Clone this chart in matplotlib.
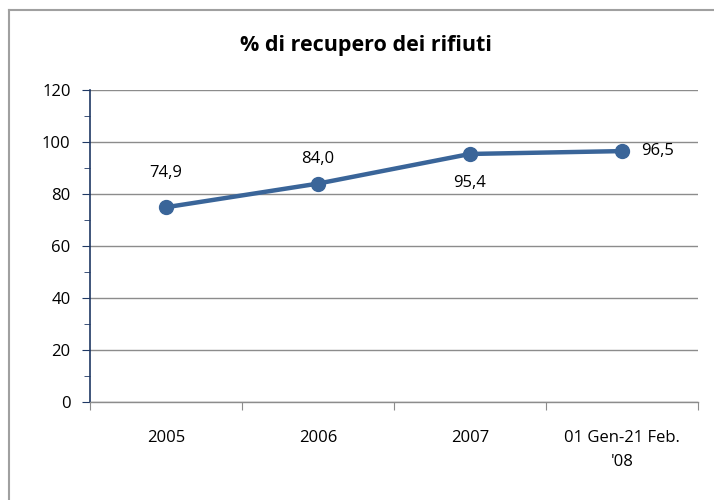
import matplotlib
matplotlib.use("Agg")
import matplotlib.pyplot as plt
from matplotlib.lines import Line2D
from matplotlib.ticker import MultipleLocator, FixedLocator

plt.rcParams['font.family'] = ['Open Sans', 'DejaVu Sans']

categories = ["2005", "2006", "2007", "01 Gen-21 Feb.\n'08"]
values = [74.9, 84.0, 95.4, 96.5]
labels = ["74,9", "84,0", "95,4", "96,5"]

fig = plt.figure(figsize=(7.14, 5.00), dpi=100)
ax = fig.add_axes([90 / 714, 1 - 402 / 500, 608 / 714, 312 / 500])

blue = '#3a6599'
x = list(range(len(values)))
ax.plot(x, values, color=blue, linewidth=3.2, marker='o', markersize=10,
        solid_capstyle='round', zorder=3)

fs = 12
# data labels, Excel-style placement
ax.annotate(labels[0], (x[0], values[0]), xytext=(0, 25), textcoords='offset points',
            ha='center', va='center', fontsize=fs)
ax.annotate(labels[1], (x[1], values[1]), xytext=(0, 18), textcoords='offset points',
            ha='center', va='center', fontsize=fs)
ax.annotate(labels[2], (x[2], values[2]), xytext=(0, -21), textcoords='offset points',
            ha='center', va='center', fontsize=fs)
ax.annotate(labels[3], (x[3], values[3]), xytext=(14, 0), textcoords='offset points',
            ha='left', va='center', fontsize=fs)

ax.set_xlim(-0.5, len(values) - 0.5)
ax.set_ylim(0, 120)
ax.yaxis.set_major_locator(MultipleLocator(20))
ax.yaxis.set_minor_locator(MultipleLocator(10))
ax.grid(axis='y', color='#8c8c8c', linewidth=1)
ax.set_axisbelow(True)

ax.xaxis.set_major_locator(FixedLocator([i - 0.5 for i in range(len(values) + 1)]))
ax.xaxis.set_major_formatter(plt.NullFormatter())
ax.xaxis.set_minor_locator(FixedLocator(x))
ax.set_xticklabels(categories, minor=True, linespacing=1.7)
ax.tick_params(axis='x', which='major', length=6, color='#8c8c8c', direction='out')
ax.tick_params(axis='x', which='minor', length=0, pad=20, labelsize=fs)
ax.tick_params(axis='y', which='major', length=6, color='#1f3864', labelsize=fs, pad=8)
ax.tick_params(axis='y', which='minor', length=4, color='#1f3864')

for s in ['top', 'right']:
    ax.spines[s].set_visible(False)
ax.spines['left'].set_color('#1f3864')
ax.spines['left'].set_linewidth(1.2)
ax.spines['bottom'].set_color('#8c8c8c')
ax.spines['bottom'].set_linewidth(1)

fig.text(366 / 714, 1 - 46 / 500, "% di recupero dei rifiuti",
         ha='center', va='center', fontsize=15.5, fontweight='bold')

# outer chart border
fig.add_artist(Line2D([9 / 714, 9 / 714], [0, 1 - 10 / 500], color='#a0a0a0', linewidth=1.5))
fig.add_artist(Line2D([9 / 714, 1], [1 - 10 / 500, 1 - 10 / 500], color='#a0a0a0', linewidth=1.5))

fig.savefig("out.png", dpi=100)
